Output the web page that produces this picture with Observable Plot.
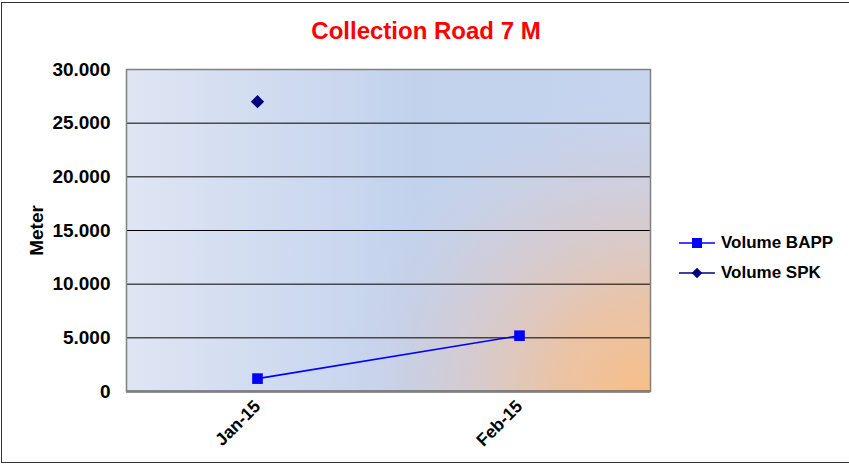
<!DOCTYPE html>
<html>
<head>
<meta charset="utf-8">
<script src="https://cdn.jsdelivr.net/npm/d3@7"></script>
<script src="https://cdn.jsdelivr.net/npm/@observablehq/plot@0.6"></script>
<style>
  body { margin: 0; background: #fff; font-family: "Liberation Sans", Arial, sans-serif; }
  #wrap { position: relative; width: 849px; height: 466px; overflow: hidden; }
  #border { position: absolute; left: 1px; top: 2px; width: 860px; height: 461px; border: 1.5px solid #333; border-right: none; box-sizing: border-box; pointer-events: none; }
  #title { position: absolute; left: 0; width: 852px; top: 17px; text-align: center; color: #ff0000; font-weight: bold; font-size: 24px; }
  #legend { position: absolute; left: 679px; top: 228px; font-weight: bold; font-size: 17px; color: #000; }
  .item { display: flex; align-items: center; height: 30px; }
  .item svg { margin-right: 6px; }
  #chart { position: absolute; left: 0; top: 0; }
</style>
</head>
<body>
<div id="wrap">
  <div id="chart"></div>
  <div id="title">Collection Road 7 M</div>
  <div id="legend"></div>
  <div id="border"></div>
</div>
<script>
const months = ["Jan-15", "Feb-15"];
const volumeBAPP = [1200, 5200];
const volumeSPK = [27000, null];
const yTicks = [0, 5000, 10000, 15000, 20000, 25000, 30000];
const seriesNames = ["Volume BAPP", "Volume SPK"];
const seriesColors = ["#0000ff", "#000080"];

const bappData = months.map((m, i) => ({month: m, value: volumeBAPP[i]}));
const spkData = months.map((m, i) => ({month: m, value: volumeSPK[i]})).filter(d => d.value != null);

const fmt = d => d === 0 ? "0" : d3.format(",.0f")(d).replace(/,/g, ".");

const svg = Plot.plot({
  width: 849,
  height: 466,
  marginLeft: 126,
  marginRight: 199,
  marginTop: 69,
  marginBottom: 75,
  style: {fontFamily: "'Liberation Sans', Arial, sans-serif", fontSize: "18px", fontWeight: "bold", color: "#000", background: "transparent"},
  x: {type: "point", domain: months, padding: 0.5},
  y: {domain: [0, 30000]},
  marks: [
    Plot.frame({fill: "url(#bgLinear)"}),
    Plot.frame({fill: "url(#bgRadial)"}),
    Plot.gridY(yTicks.filter(t => t > 0 && t < 30000), {stroke: "#000", strokeOpacity: 1, strokeWidth: 1}),
    Plot.ruleY([0], {stroke: "#333", strokeWidth: 2}),
    Plot.frame({stroke: "#808080", strokeWidth: 1.5}),
    Plot.axisY({ticks: yTicks, tickFormat: fmt, tickSize: 0, tickPadding: 16, label: "Meter", labelArrow: "none", labelAnchor: "center", labelOffset: 97, fontSize: 19}),
    Plot.axisX({tickRotate: -45, tickSize: 0, tickPadding: 12, label: null, fontSize: 17.5}),
    Plot.lineY(bappData, {x: "month", y: "value", stroke: seriesColors[0], strokeWidth: 1.6}),
    Plot.dot(bappData, {x: "month", y: "value", symbol: "square", r: 6, fill: seriesColors[0], stroke: "none"}),
    Plot.dot(spkData, {x: "month", y: "value", symbol: "diamond2", r: 6, fill: seriesColors[1], stroke: "none"})
  ]
});

// gradients for the plot area
const defs = d3.select(svg).insert("defs", ":first-child");
const lin = defs.append("linearGradient").attr("id", "bgLinear").attr("x1", 0).attr("y1", 0).attr("x2", 1).attr("y2", 0);
lin.append("stop").attr("offset", 0).attr("stop-color", "#dfe5f3");
lin.append("stop").attr("offset", 0.55).attr("stop-color", "#c2d2ed");
lin.append("stop").attr("offset", 1).attr("stop-color", "#c6d4ee");
const rad = defs.append("radialGradient").attr("id", "bgRadial")
  .attr("gradientUnits", "userSpaceOnUse").attr("cx", 640).attr("cy", 395).attr("r", 300);
rad.append("stop").attr("offset", 0).attr("stop-color", "#f7bf88").attr("stop-opacity", 1);
rad.append("stop").attr("offset", 0.3).attr("stop-color", "#eec29f").attr("stop-opacity", 0.9);
rad.append("stop").attr("offset", 0.65).attr("stop-color", "#dcc8c6").attr("stop-opacity", 0.55);
rad.append("stop").attr("offset", 1).attr("stop-color", "#cfcfe0").attr("stop-opacity", 0);

d3.select(svg).selectAll("text").attr("fill", "#000");
d3.select(svg).selectAll("text").each(function() {
  if (this.textContent.includes("↑")) this.textContent = this.textContent.replace(/\s*↑\s*/g, "").trim();
});
document.getElementById("chart").appendChild(svg);

// legend
const legend = d3.select("#legend");
seriesNames.forEach((name, i) => {
  const item = legend.append("div").attr("class", "item");
  const s = item.append("svg").attr("width", 36).attr("height", 14);
  s.append("line").attr("x1", 0).attr("x2", 36).attr("y1", 7).attr("y2", 7).attr("stroke", seriesColors[i]).attr("stroke-width", 1.6);
  const sym = d3.symbol().type(i === 0 ? d3.symbolSquare : d3.symbolDiamond2).size(i === 0 ? 100 : 70);
  s.append("path").attr("d", sym()).attr("transform", "translate(18,7)").attr("fill", seriesColors[i]);
  item.append("span").text(name);
});
</script>
</body>
</html>
